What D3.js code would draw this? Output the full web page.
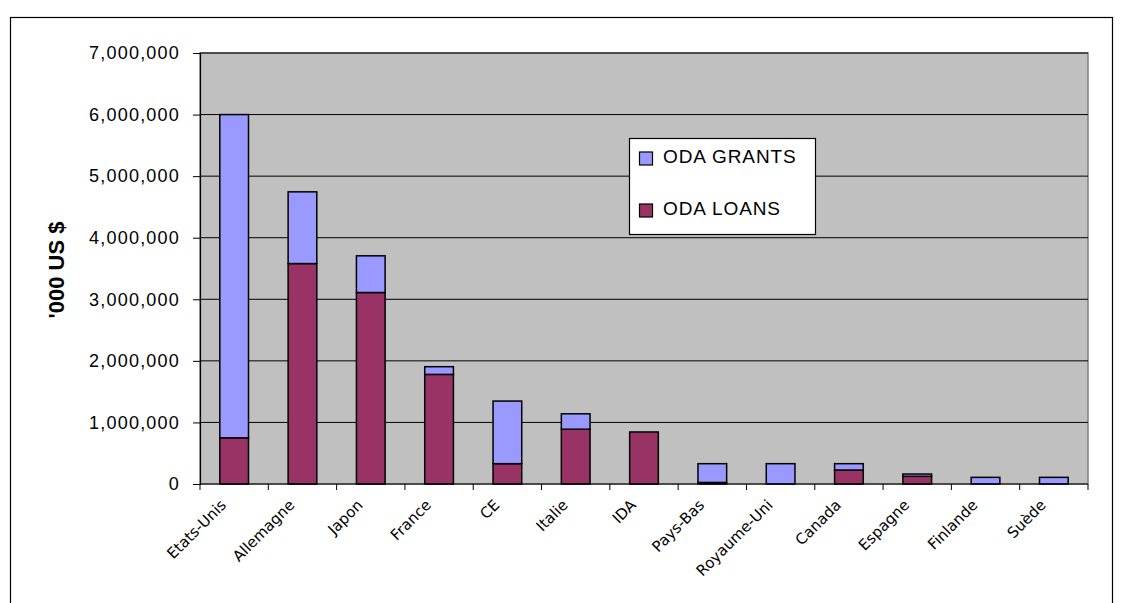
<!DOCTYPE html>
<html><head><meta charset="utf-8">
<script src="https://cdnjs.cloudflare.com/ajax/libs/d3/7.8.5/d3.min.js"></script>
<style>body{margin:0;background:#fff}svg{display:block}</style>
</head><body>
<svg id="c" width="1123" height="603"></svg>
<script>
const categories = ["Etats-Unis","Allemagne","Japon","France","CE","Italie","IDA","Pays-Bas","Royaume-Uni","Canada","Espagne","Finlande","Suède"];
const loans  = [750000, 3580000, 3110000, 1780000, 330000, 890000, 845000, 25000, 0, 227000, 125000, 0, 0];
const grants = [5250000, 1165000, 596000, 125000, 1017000, 250000, 0, 305000, 330000, 103000, 37000, 108000, 108000];
const yTicks = [0,1000000,2000000,3000000,4000000,5000000,6000000,7000000];
const seriesNames = ["ODA GRANTS","ODA LOANS"];
const colors = {grants:"#9999FF", loans:"#993366"};

const svg = d3.select("#c");
const font = "'Liberation Sans', Arial, sans-serif";
// outer frame
svg.append("rect").attr("x",10.5).attr("y",17.5).attr("width",1102).attr("height",600)
  .attr("fill","none").attr("stroke","#000").attr("stroke-width",1.2);

const L=200, R=1088, T=53, B=484;
const x = d3.scaleBand().domain(categories).range([L,R]).paddingInner(0.58).paddingOuter(0.29);
const xb = d3.scaleBand().domain(categories).range([L,R]);
const y = d3.scaleLinear().domain([0,7000000]).range([B,T]);

svg.append("rect").attr("x",L).attr("y",T).attr("width",R-L).attr("height",B-T)
  .attr("fill","#C0C0C0").attr("stroke","#808080").attr("stroke-width",1.5);

svg.append("g").selectAll("line").data(yTicks.filter(d=>d>0)).join("line")
  .attr("x1",L).attr("x2",R).attr("y1",d=>y(d)).attr("y2",d=>y(d))
  .attr("stroke","#000").attr("stroke-width",1);

const data = categories.map((c,i)=>({c, loans:loans[i], grants:grants[i]}));
const g = svg.append("g");
g.selectAll(".l").data(data).join("rect").attr("class","l")
  .attr("x",d=>x(d.c)).attr("width",x.bandwidth())
  .attr("y",d=>y(d.loans)).attr("height",d=>y(0)-y(d.loans))
  .attr("fill",colors.loans).attr("stroke","#000").attr("stroke-width",1.5)
  .style("display",d=>d.loans>0?null:"none");
g.selectAll(".g").data(data).join("rect").attr("class","g")
  .attr("x",d=>x(d.c)).attr("width",x.bandwidth())
  .attr("y",d=>y(d.loans+d.grants)).attr("height",d=>y(d.loans)-y(d.loans+d.grants))
  .attr("fill",colors.grants).attr("stroke","#000").attr("stroke-width",1.5)
  .style("display",d=>d.grants>0?null:"none");

// y axis
const ya = svg.append("g").attr("transform",`translate(${L},0)`)
  .call(d3.axisLeft(y).tickValues(yTicks).tickSize(7).tickPadding(13).tickFormat(d3.format(",")));
ya.select(".domain").attr("stroke","#000").attr("stroke-width",1.2);
ya.selectAll(".tick line").attr("stroke","#000");
ya.selectAll("text").attr("font-family",font).attr("font-size",18).attr("letter-spacing","1.2px").attr("fill","#000");

// x axis
const xa = svg.append("g").attr("transform",`translate(0,${B})`);
xa.append("line").attr("x1",L).attr("x2",R).attr("stroke","#000").attr("stroke-width",1.2);
const bounds = categories.map(c=>xb(c)).concat([R]);
xa.selectAll(".tk").data(bounds).join("line").attr("class","tk")
  .attr("x1",d=>d).attr("x2",d=>d).attr("y1",0).attr("y2",6).attr("stroke","#000");
xa.selectAll("text").data(categories).join("text")
  .attr("transform",d=>`translate(${xb(d)+xb.bandwidth()/2-7},22) rotate(-45)`)
  .attr("text-anchor","end")
  .attr("font-family","'DejaVu Sans', Verdana, sans-serif").attr("font-size",15).attr("fill","#000").text(d=>d);

// y title
svg.append("text").attr("transform","translate(64,270) rotate(-90)")
  .attr("text-anchor","middle").attr("font-family",font).attr("font-size",22)
  .attr("font-weight","bold").attr("fill","#000").text("'000 US $");

// legend
const lg = svg.append("g");
lg.append("rect").attr("x",629.5).attr("y",138.5).attr("width",186).attr("height",96)
  .attr("fill","#fff").attr("stroke","#000").attr("stroke-width",1.2);
const items = [{n:seriesNames[0],c:colors.grants,y:158},{n:seriesNames[1],c:colors.loans,y:210}];
items.forEach(it=>{
  lg.append("rect").attr("x",639.5).attr("y",it.y-6).attr("width",13).attr("height",13)
    .attr("fill",it.c).attr("stroke","#000").attr("stroke-width",1.2);
  lg.append("text").attr("x",663).attr("y",it.y+5).attr("font-family",font).attr("font-size",19)
    .attr("letter-spacing","0.9px").attr("fill","#000").text(it.n);
});
</script>
</body></html>
